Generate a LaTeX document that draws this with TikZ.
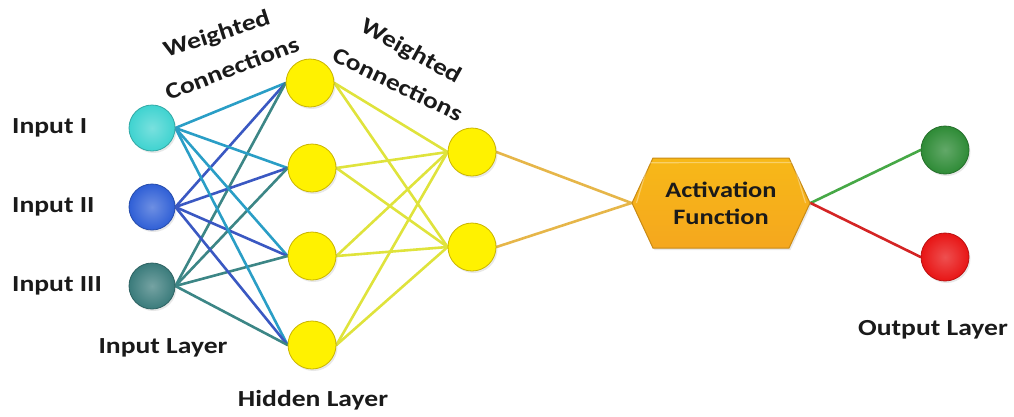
\documentclass[tikz,border=0pt]{standalone}
\usepackage{fontspec}
\setmainfont[FakeStretch=1.2]{Carlito}
\usetikzlibrary{shapes.symbols,backgrounds,shadows}

\definecolor{cyanin}{HTML}{3FD3D0}
\definecolor{bluein}{HTML}{2F5FD6}
\definecolor{tealin}{HTML}{3A7B7B}
\definecolor{cyanln}{HTML}{2A9EC6}
\definecolor{blueln}{HTML}{3A58C2}
\definecolor{tealln}{HTML}{3C8686}
\definecolor{hidfill}{HTML}{FFF200}
\definecolor{hidedge}{HTML}{C9B400}
\definecolor{yelln}{HTML}{DFE33C}
\definecolor{orln}{HTML}{E6B649}
\definecolor{actfill}{HTML}{F5A71E}
\definecolor{actedge}{HTML}{C98A14}
\definecolor{outgreen}{HTML}{2E8B36}
\definecolor{outred}{HTML}{E81515}
\definecolor{grnln}{HTML}{46A846}
\definecolor{redln}{HTML}{D42424}
\definecolor{txt}{HTML}{1A1A1A}

\tikzset{
  neuron/.style={circle, minimum size=#1, inner sep=0pt, line width=0.8pt,
    drop shadow={opacity=0.18, shadow xshift=1.5pt, shadow yshift=-2pt}},
  inball/.style={neuron=46pt, draw=#1!80!black, inner color=#1!70!white, outer color=#1},
  hidball/.style={neuron=48pt, draw=hidedge, fill=hidfill},
  outball/.style={neuron=48pt, draw=#1!80!black, inner color=#1!75!white, outer color=#1},
  link/.style={line width=2.6pt, line cap=round},
  lbl/.style={text=txt, font=\fontsize{23}{26}\selectfont\bfseries, inner sep=0pt},
}

\begin{document}
\begin{tikzpicture}[x=1pt, y=-1pt]
  \useasboundingbox (0,0) rectangle (1014,416);

  % input layer
  \node[inball=cyanin] (in1) at (152,128) {};
  \node[inball=bluein] (in2) at (152,207) {};
  \node[inball=tealin] (in3) at (152,286) {};

  % hidden layer
  \node[hidball] (h1) at (310,83) {};
  \node[hidball] (h2) at (312,168) {};
  \node[hidball] (h3) at (312,256) {};
  \node[hidball] (h4) at (312,345) {};

  % second hidden layer
  \node[hidball] (s1) at (472,152) {};
  \node[hidball] (s2) at (472,247) {};

  % activation function
  \node[signal, signal to=east and west, signal pointer angle=130,
        minimum width=178pt, minimum height=90pt, inner sep=0pt,
        draw=actedge, line width=1pt, top color=actfill!80!yellow, bottom color=actfill,
        drop shadow={opacity=0.18, shadow xshift=1.5pt, shadow yshift=-2pt},
        lbl, align=center, font=\fontsize{22}{27}\selectfont\bfseries]
        (act) at (721,203) {Activation\\Function};
  % bevel highlight inside the hexagon
  \draw[white, opacity=0.35, line width=1.2pt]
    ([xshift=5pt]act.west) -- ([xshift=-4pt,yshift=-5pt]act.north west)
    -- ([xshift=4pt,yshift=-5pt]act.north east) -- ([xshift=-5pt]act.east);

  % output layer
  \node[outball=outgreen] (o1) at (945,150) {};
  \node[outball=outred] (o2) at (945,257) {};

  % connections
  \begin{pgfonlayer}{background}
    \foreach \h in {h1,h2,h3,h4} {
      \draw[link, cyanln] (in1.east) -- (\h.west);
      \draw[link, blueln] (in2.east) -- (\h.west);
      \draw[link, tealln] (in3.east) -- (\h.west);
    }
    \foreach \h in {h1,h2,h3,h4} {
      \draw[link, yelln] (\h.east) -- (s1.west);
      \draw[link, yelln] (\h.east) -- (s2.west);
    }
    \draw[link, orln] (s1.east) -- (act.west);
    \draw[link, orln] (s2.east) -- (act.west);
    \draw[link, grnln] (act.east) -- (o1.west);
    \draw[link, redln] (act.east) -- (o2.west);
  \end{pgfonlayer}

  % labels
  \node[lbl, anchor=west] (t1) at (12,128) {Input I};
  \node[lbl, anchor=west] (t2) at (12,207) {Input II};
  \node[lbl, anchor=west] (t3) at (12,286) {Input III};
  \node[lbl] (tin) at (163,348) {Input Layer};
  \node[lbl] (thid) at (313,400) {Hidden Layer};
  \node[lbl] (tout) at (933,330) {Output Layer};
  \node[lbl, rotate=18] (w1a) at (217,35) {Weighted};
  \node[lbl, rotate=21] (w1b) at (232,68) {Connections};
  \node[lbl, rotate=-29] (w2a) at (411,52) {Weighted};
  \node[lbl, rotate=-26] (w2b) at (398,84) {Connections};
\end{tikzpicture}
\end{document}
